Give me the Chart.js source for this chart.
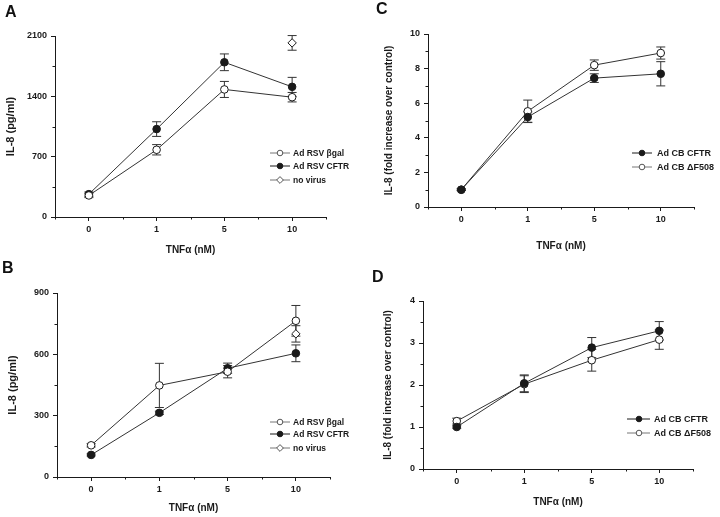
<!DOCTYPE html>
<html>
<head>
<meta charset="utf-8">
<title>IL-8 response to TNFα</title>
<script src="https://cdn.jsdelivr.net/npm/chart.js@4.4.1/dist/chart.umd.min.js"></script>
<style>
  body { margin: 0; background: #fff; }
  .panel { position: absolute; }
  .tag { position: absolute; font: bold 16px "Liberation Sans", Arial, sans-serif; color: #111; }
</style>
</head>
<body>
<div class="panel" style="left:0;top:0"><canvas id="chartA" width="360" height="260"></canvas></div>
<div class="panel" style="left:0;top:260px"><canvas id="chartB" width="360" height="257"></canvas></div>
<div class="panel" style="left:360px;top:0"><canvas id="chartC" width="360" height="260"></canvas></div>
<div class="panel" style="left:360px;top:260px"><canvas id="chartD" width="360" height="257"></canvas></div>
<div class="tag" style="left:5px;top:3px">A</div>
<div class="tag" style="left:2px;top:259px">B</div>
<div class="tag" style="left:376px;top:0px">C</div>
<div class="tag" style="left:372px;top:268px">D</div>

<script>
const catLabels = ['0', '1', '5', '10'];

// Panel A (pg/ml)
const aBgal = [250, 780, 1480, 1390];
const aBgalErr = [25, 60, 93, 55];
const aCftr = [265, 1020, 1795, 1510];
const aCftrErr = [25, 85, 97, 110];
const aNoVirus = [null, null, null, 2020];
const aNoVirusErr = [0, 0, 0, 85];

// Panel B (pg/ml)
const bBgal = [155, 448, 515, 764];
const bBgalErr = [8, 108, 30, 75];
const bCftr = [108, 314, 532, 605];
const bCftrErr = [5, 8, 25, 41];
const bNoVirus = [null, null, null, 700];
const bNoVirusErr = [0, 0, 0, 40];

// Panel C (fold increase)
const cCftr = [1.0, 5.2, 7.45, 7.7];
const cCftrErr = [0.05, 0.3, 0.25, 0.7];
const cDf508 = [1.0, 5.53, 8.2, 8.9];
const cDf508Err = [0.05, 0.65, 0.3, 0.35];

// Panel D (fold increase)
const dCftr = [1.0, 2.04, 2.89, 3.29];
const dCftrErr = [0.03, 0.2, 0.24, 0.22];
const dDf508 = [1.14, 2.02, 2.59, 3.08];
const dDf508Err = [0.07, 0.2, 0.26, 0.23];

const FONT = '"Liberation Sans", Arial, sans-serif';
const INK = '#1a1a1a';

function toPoints(arr) {
    return arr.map((v, i) => v === null ? null : { x: i, y: v }).filter(p => p !== null);
}

function serie(label, values, errors, kind) {
    const filled = kind === 'filled';
    return {
        label: label,
        data: toPoints(values),
        errors: errors.filter((e, i) => values[i] !== null),
        kind: kind,
        showLine: kind !== 'diamond',
        borderColor: '#333',
        borderWidth: 1,
        pointStyle: kind === 'diamond' ? 'rectRot' : 'circle',
        pointRadius: kind === 'diamond' ? 4.2 : 3.8,
        pointBorderWidth: 1,
        pointBorderColor: INK,
        pointBackgroundColor: filled ? INK : '#fff',
        tension: 0
    };
}

// error bars drawn from the scales
const errorBars = {
    id: 'errorBars',
    beforeDatasetsDraw(chart) {
        const ctx = chart.ctx;
        const yScale = chart.scales.y;
        ctx.save();
        ctx.strokeStyle = '#333';
        ctx.lineWidth = 1;
        chart.data.datasets.forEach((ds, di) => {
            const meta = chart.getDatasetMeta(di);
            meta.data.forEach((pt, i) => {
                const e = ds.errors[i];
                if (!e) return;
                const v = ds.data[i].y;
                const top = yScale.getPixelForValue(v + e);
                const bot = yScale.getPixelForValue(v - e);
                ctx.beginPath();
                ctx.moveTo(pt.x, top); ctx.lineTo(pt.x, bot);
                ctx.moveTo(pt.x - 4.5, top); ctx.lineTo(pt.x + 4.5, top);
                ctx.moveTo(pt.x - 4.5, bot); ctx.lineTo(pt.x + 4.5, bot);
                ctx.stroke();
            });
        });
        ctx.restore();
    }
};

// short minor ticks (the major ones come from the grid)
const minorTicks = {
    id: 'minorTicks',
    afterDraw(chart) {
        const ctx = chart.ctx;
        const area = chart.chartArea;
        ctx.save();
        ctx.strokeStyle = INK;
        ctx.lineWidth = 1;
        ctx.beginPath();
        chart.scales.x.ticks.forEach(t => {
            if (Number.isInteger(t.value)) return;
            const x = Math.round(chart.scales.x.getPixelForValue(t.value)) + 0.5;
            ctx.moveTo(x, area.bottom); ctx.lineTo(x, area.bottom + 2.5);
        });
        const step = chart.options.scales.y.ticks.stepSize * 2;
        chart.scales.y.ticks.forEach(t => {
            if (Math.abs(t.value % step) < 1e-6) return;
            const y = Math.round(chart.scales.y.getPixelForValue(t.value)) + 0.5;
            ctx.moveTo(area.left, y); ctx.lineTo(area.left - 2.5, y);
        });
        ctx.stroke();
        ctx.restore();
    }
};

// legend with "-o-" style samples
const sketchLegend = {
    id: 'sketchLegend',
    afterDraw(chart, args, opts) {
        const ctx = chart.ctx;
        ctx.save();
        ctx.font = 'bold ' + opts.size + 'px ' + FONT;
        ctx.textBaseline = 'middle';
        chart.data.datasets.forEach((ds, i) => {
            const y = opts.ys[i];
            const filled = ds.kind === 'filled';
            ctx.strokeStyle = filled ? INK : '#777';
            ctx.lineWidth = 1;
            ctx.beginPath();
            ctx.moveTo(opts.x0, y); ctx.lineTo(opts.x1, y);
            ctx.stroke();
            ctx.fillStyle = filled ? INK : '#fff';
            ctx.strokeStyle = filled ? INK : '#555';
            ctx.beginPath();
            if (ds.kind === 'diamond') {
                const r = 3.4;
                ctx.moveTo(opts.mx, y - r); ctx.lineTo(opts.mx + r, y);
                ctx.lineTo(opts.mx, y + r); ctx.lineTo(opts.mx - r, y);
                ctx.closePath();
            } else {
                ctx.arc(opts.mx, y, 2.8, 0, Math.PI * 2);
            }
            ctx.fill();
            ctx.stroke();
            ctx.fillStyle = INK;
            ctx.fillText(ds.label, opts.tx, y + 0.5);
        });
        ctx.restore();
    }
};

function makePanel(id, geo, datasets, yAxis, titles, legend) {
    const canvas = document.getElementById(id);
    return new Chart(canvas.getContext('2d'), {
        type: 'line',
        data: { datasets: datasets },
        options: {
            responsive: false,
            animation: false,
            events: [],
            layout: { padding: { left: 0, right: canvas.width - geo.right, top: geo.top, bottom: 0 } },
            plugins: {
                legend: { display: false },
                tooltip: { enabled: false },
                sketchLegend: legend
            },
            scales: {
                x: {
                    type: 'linear',
                    min: -0.5,
                    max: 3.5,
                    afterFit: s => { s.height = canvas.height - geo.bottom; },
                    border: { display: true, color: INK, width: 1 },
                    grid: {
                        drawOnChartArea: false,
                        tickLength: 4,
                        color: INK,
                        tickColor: c => (c.tick && Number.isInteger(c.tick.value)) ? INK : 'rgba(0,0,0,0)'
                    },
                    ticks: {
                        stepSize: 0.5,
                        autoSkip: false,
                        maxRotation: 0,
                        padding: 3,
                        color: INK,
                        font: { family: FONT, size: 9, weight: 'bold' },
                        callback: v => (Number.isInteger(v) && v >= 0 && v < catLabels.length) ? catLabels[v] : ''
                    },
                    title: {
                        display: true,
                        text: 'TNFα (nM)',
                        color: INK,
                        font: { family: FONT, size: 10, weight: 'bold' },
                        padding: { top: 0, bottom: titles.xPad }
                    }
                },
                y: {
                    min: 0,
                    max: yAxis.max,
                    afterFit: s => { s.width = geo.left; },
                    border: { display: true, color: INK, width: 1 },
                    grid: {
                        drawOnChartArea: false,
                        tickLength: 4,
                        color: INK,
                        tickColor: c => (c.tick && Math.abs(c.tick.value % yAxis.step) < 1e-6) ? INK : 'rgba(0,0,0,0)'
                    },
                    ticks: {
                        stepSize: yAxis.step / 2,
                        autoSkip: false,
                        padding: 4,
                        color: INK,
                        font: { family: FONT, size: 9, weight: 'bold' },
                        callback: v => (Math.abs(v % yAxis.step) < 1e-6) ? String(v) : ''
                    },
                    title: {
                        display: true,
                        text: titles.y,
                        color: INK,
                        font: { family: FONT, size: titles.ySize, weight: 'bold' },
                        padding: { top: titles.yPad, bottom: 0 }
                    }
                }
            }
        },
        plugins: [errorBars, minorTicks, sketchLegend]
    });
}

makePanel('chartA', { left: 55, right: 326, top: 36, bottom: 217 }, [
    serie('Ad RSV βgal', aBgal, aBgalErr, 'open'),
    serie('Ad RSV CFTR', aCftr, aCftrErr, 'filled'),
    serie('no virus', aNoVirus, aNoVirusErr, 'diamond')
], { max: 2100, step: 700 }, { y: 'IL-8 (pg/ml)', ySize: 11, yPad: 4.4, xPad: 4 },
{ x0: 270, x1: 290, mx: 280, tx: 293, ys: [153, 166, 180], size: 8.5 });

makePanel('chartB', { left: 57, right: 330, top: 33, bottom: 217 }, [
    serie('Ad RSV βgal', bBgal, bBgalErr, 'open'),
    serie('Ad RSV CFTR', bCftr, bCftrErr, 'filled'),
    serie('no virus', bNoVirus, bNoVirusErr, 'diamond')
], { max: 900, step: 300 }, { y: 'IL-8 (pg/ml)', ySize: 11, yPad: 6, xPad: 2.7 },
{ x0: 270, x1: 290, mx: 280, tx: 293, ys: [162, 174, 188], size: 8.5 });

makePanel('chartC', { left: 68, right: 334, top: 34, bottom: 207 }, [
    serie('Ad CB CFTR', cCftr, cCftrErr, 'filled'),
    serie('Ad CB ΔF508', cDf508, cDf508Err, 'open')
], { max: 10, step: 2 }, { y: 'IL-8 (fold increase over control)', ySize: 10, yPad: 23, xPad: 7.3 },
{ x0: 272, x1: 292, mx: 282, tx: 297, ys: [153, 167], size: 9 });

makePanel('chartD', { left: 63, right: 333, top: 41, bottom: 209 }, [
    serie('Ad CB CFTR', dCftr, dCftrErr, 'filled'),
    serie('Ad CB ΔF508', dDf508, dDf508Err, 'open')
], { max: 4, step: 1 }, { y: 'IL-8 (fold increase over control)', ySize: 10, yPad: 22, xPad: 8.3 },
{ x0: 267, x1: 290, mx: 279, tx: 294, ys: [159, 173], size: 9 });
</script>
</body>
</html>
